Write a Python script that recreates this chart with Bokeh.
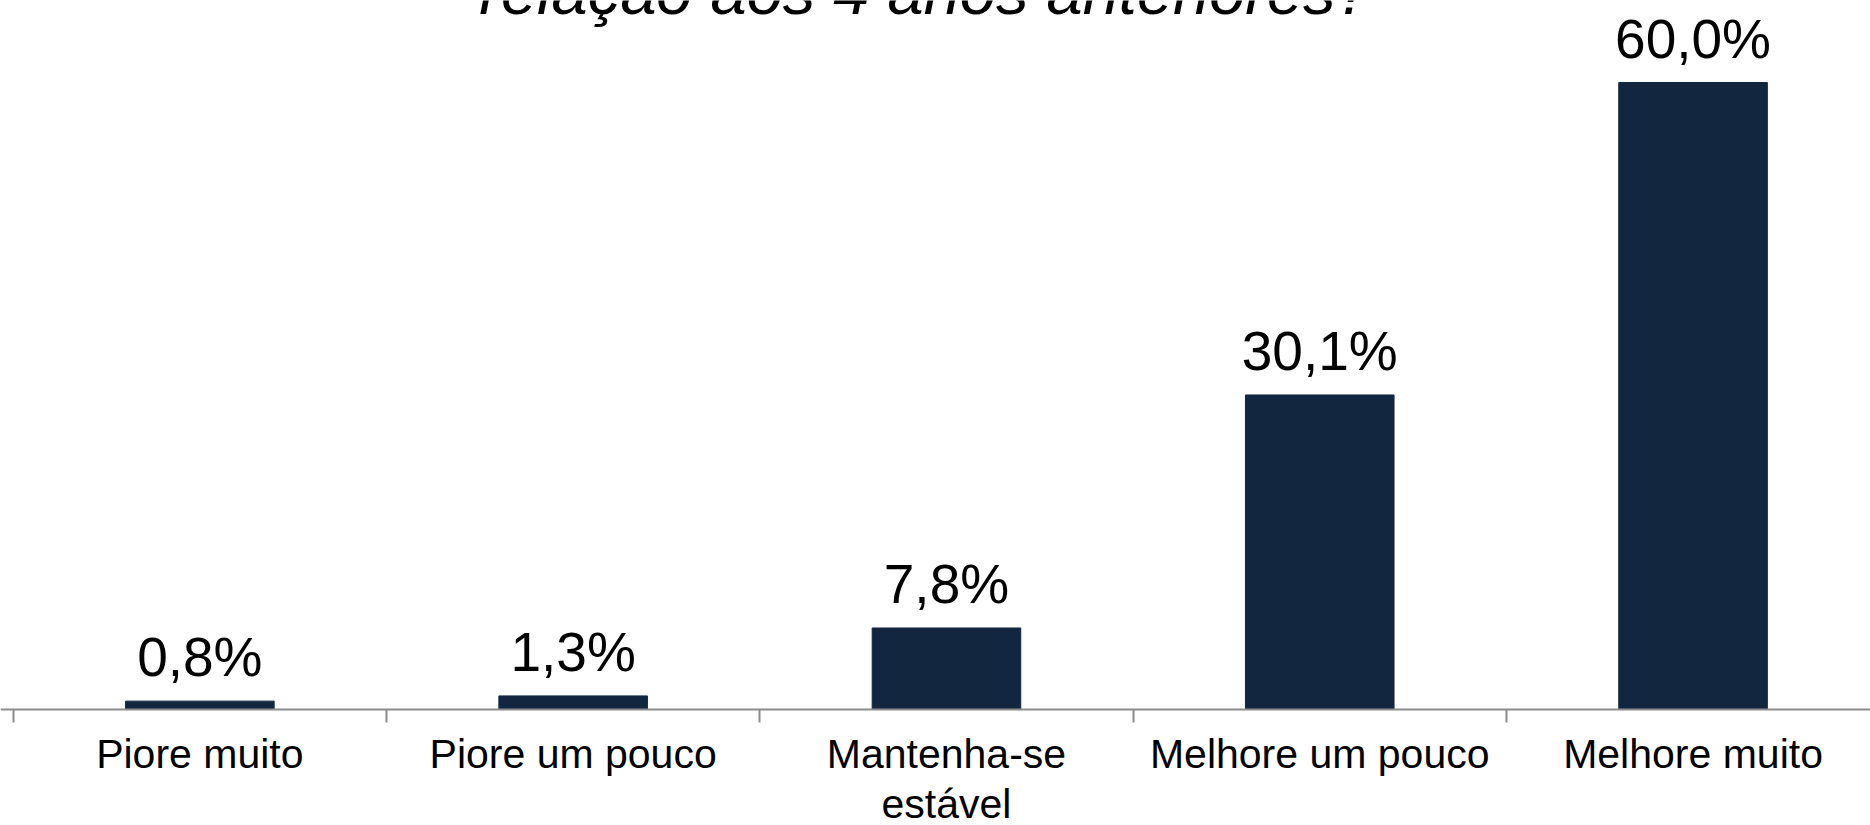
from bokeh.plotting import figure
from bokeh.models import (ColumnDataSource, Range1d, LinearAxis, FixedTicker,
                          LabelSet, Label)
from bokeh.core.properties import value
from bokeh.embed import file_html
from bokeh.resources import INLINE

# ---- data ----
categories = ["Piore muito", "Piore um pouco", "Mantenha-se\nestável",
              "Melhore um pouco", "Melhore muito"]
values = [0.8, 1.3, 7.8, 30.1, 60.0]
value_labels = ["0,8%", "1,3%", "7,8%", "30,1%", "60,0%"]
title_text = "relação aos 4 anos anteriores?"

positions = list(range(len(categories)))
boundaries = [i - 0.5 for i in range(len(categories) + 1)]

FONT = "Liberation Sans"
BAR_COLOR = "#13263f"
AXIS_COLOR = "#8c8c8c"

W, H = 1870, 825
left_px = 12.7          # screen x of first category boundary
cat_px = 373.3          # width of one category in px
axis_px = 709           # screen y of the value 0
px_per_unit = (709 - 82) / 60.0

x_start = -0.5 - left_px / cat_px
y_start = -(H - axis_px) / px_per_unit

src = ColumnDataSource(dict(x=positions, top=values, lab=value_labels))

p = figure(width=W, height=H, output_backend="svg", toolbar_location=None,
           x_range=Range1d(x_start, x_start + W / cat_px),
           y_range=Range1d(y_start, y_start + H / px_per_unit),
           min_border=0, x_axis_type=None, y_axis_type=None)
p.outline_line_color = None
p.xgrid.visible = False
p.ygrid.visible = False
p.background_fill_color = "white"
p.border_fill_color = "white"

p.vbar(x="x", top="top", width=0.398, bottom=0, source=src,
       fill_color=BAR_COLOR, line_color=BAR_COLOR, line_width=1)

vlabels = LabelSet(x="x", y="top", text="lab", source=src, y_offset=25,
                   text_align="center", text_baseline="alphabetic",
                   text_font=value(FONT), text_font_size="55px",
                   text_color="#000000")
p.add_layout(vlabels)

xaxis = LinearAxis(ticker=FixedTicker(ticks=positions, minor_ticks=boundaries),
                   fixed_location=0)
xaxis.major_label_overrides = {i: c for i, c in zip(positions, categories)}
xaxis.axis_line_color = AXIS_COLOR
xaxis.axis_line_width = 2
xaxis.major_tick_line_color = None
xaxis.major_tick_out = 0
xaxis.major_tick_in = 0
xaxis.minor_tick_line_color = AXIS_COLOR
xaxis.minor_tick_line_width = 2
xaxis.minor_tick_out = 13
xaxis.minor_tick_in = 0
xaxis.major_label_standoff = 8
xaxis.major_label_text_font = FONT
xaxis.major_label_text_font_size = "41px"
xaxis.major_label_text_color = "#000000"
xaxis.major_label_text_line_height = 1.1
p.add_layout(xaxis, "below")

title = Label(x=(925 - left_px) / cat_px - 0.5,
              y=(axis_px + 9) / px_per_unit,
              text=title_text, text_align="center", text_baseline="alphabetic",
              text_font=FONT, text_font_style="italic",
              text_font_size="65px", text_color="#000000")
p.add_layout(title)

open("out.html", "w").write(file_html(p, INLINE))
